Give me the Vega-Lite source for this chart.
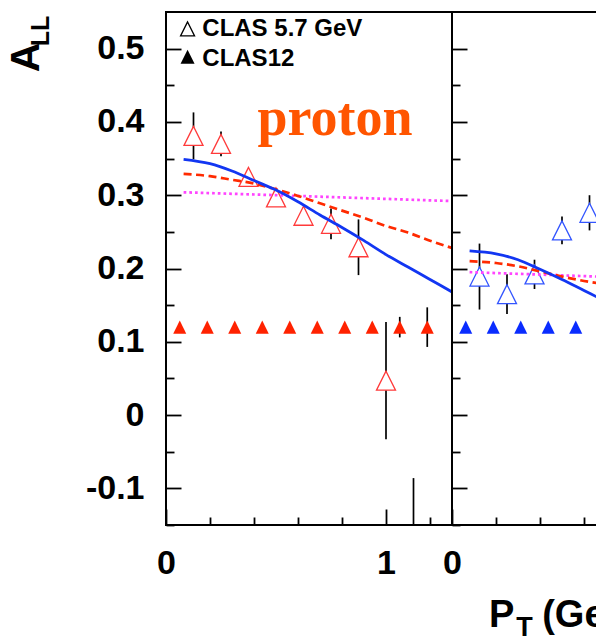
{
  "$schema": "https://vega.github.io/schema/vega-lite/v6.json",
  "background": "white",
  "padding": {"left": 5, "top": 11, "right": 0, "bottom": 0},
  "spacing": 0,
  "bounds": "flush",
  "datasets": {
    "points": [
      {"panel": "proton", "set": "CLAS 5.7 GeV", "pt": 0.125, "all": 0.381, "err": 0.032},
      {"panel": "proton", "set": "CLAS 5.7 GeV", "pt": 0.25, "all": 0.370, "err": 0.017},
      {"panel": "proton", "set": "CLAS 5.7 GeV", "pt": 0.375, "all": 0.325, "err": 0.010},
      {"panel": "proton", "set": "CLAS 5.7 GeV", "pt": 0.5, "all": 0.297, "err": 0.008},
      {"panel": "proton", "set": "CLAS 5.7 GeV", "pt": 0.625, "all": 0.272, "err": 0.011},
      {"panel": "proton", "set": "CLAS 5.7 GeV", "pt": 0.75, "all": 0.261, "err": 0.021},
      {"panel": "proton", "set": "CLAS 5.7 GeV", "pt": 0.875, "all": 0.229, "err": 0.038},
      {"panel": "proton", "set": "CLAS 5.7 GeV", "pt": 1.0, "all": 0.047, "err": 0.080},
      {"panel": "proton", "set": "CLAS 5.7 GeV", "pt": 1.125, "all": -0.18, "err": 0.094},
      {"panel": "proton", "set": "CLAS12", "pt": 0.0625, "all": 0.12, "err": 0.004},
      {"panel": "proton", "set": "CLAS12", "pt": 0.1875, "all": 0.12, "err": 0.004},
      {"panel": "proton", "set": "CLAS12", "pt": 0.3125, "all": 0.12, "err": 0.004},
      {"panel": "proton", "set": "CLAS12", "pt": 0.4375, "all": 0.12, "err": 0.004},
      {"panel": "proton", "set": "CLAS12", "pt": 0.5625, "all": 0.12, "err": 0.004},
      {"panel": "proton", "set": "CLAS12", "pt": 0.6875, "all": 0.12, "err": 0.004},
      {"panel": "proton", "set": "CLAS12", "pt": 0.8125, "all": 0.12, "err": 0.005},
      {"panel": "proton", "set": "CLAS12", "pt": 0.9375, "all": 0.12, "err": 0.006},
      {"panel": "proton", "set": "CLAS12", "pt": 1.0625, "all": 0.12, "err": 0.014},
      {"panel": "proton", "set": "CLAS12", "pt": 1.1875, "all": 0.12, "err": 0.027},
      {"panel": "second", "set": "CLAS 5.7 GeV", "pt": 0.125, "all": 0.189, "err": 0.045},
      {"panel": "second", "set": "CLAS 5.7 GeV", "pt": 0.25, "all": 0.165, "err": 0.027},
      {"panel": "second", "set": "CLAS 5.7 GeV", "pt": 0.375, "all": 0.192, "err": 0.020},
      {"panel": "second", "set": "CLAS 5.7 GeV", "pt": 0.5, "all": 0.252, "err": 0.019},
      {"panel": "second", "set": "CLAS 5.7 GeV", "pt": 0.625, "all": 0.276, "err": 0.024},
      {"panel": "second", "set": "CLAS12", "pt": 0.0625, "all": 0.12, "err": 0.004},
      {"panel": "second", "set": "CLAS12", "pt": 0.1875, "all": 0.12, "err": 0.004},
      {"panel": "second", "set": "CLAS12", "pt": 0.3125, "all": 0.12, "err": 0.004},
      {"panel": "second", "set": "CLAS12", "pt": 0.4375, "all": 0.12, "err": 0.004},
      {"panel": "second", "set": "CLAS12", "pt": 0.5625, "all": 0.12, "err": 0.004}
    ],
    "curves": [
      {"panel": "proton", "model": "solid", "pt": 0.08, "all": 0.349},
      {"panel": "proton", "model": "solid", "pt": 0.2, "all": 0.343},
      {"panel": "proton", "model": "solid", "pt": 0.3, "all": 0.333},
      {"panel": "proton", "model": "solid", "pt": 0.4, "all": 0.320},
      {"panel": "proton", "model": "solid", "pt": 0.5, "all": 0.307},
      {"panel": "proton", "model": "solid", "pt": 0.6, "all": 0.291},
      {"panel": "proton", "model": "solid", "pt": 0.7, "all": 0.273},
      {"panel": "proton", "model": "solid", "pt": 0.8, "all": 0.256},
      {"panel": "proton", "model": "solid", "pt": 0.9, "all": 0.238},
      {"panel": "proton", "model": "solid", "pt": 1.0, "all": 0.219},
      {"panel": "proton", "model": "solid", "pt": 1.1, "all": 0.202},
      {"panel": "proton", "model": "solid", "pt": 1.2, "all": 0.185},
      {"panel": "proton", "model": "solid", "pt": 1.3, "all": 0.168},
      {"panel": "proton", "model": "dashed", "pt": 0.08, "all": 0.329},
      {"panel": "proton", "model": "dashed", "pt": 0.2, "all": 0.326},
      {"panel": "proton", "model": "dashed", "pt": 0.3, "all": 0.321},
      {"panel": "proton", "model": "dashed", "pt": 0.4, "all": 0.316},
      {"panel": "proton", "model": "dashed", "pt": 0.5, "all": 0.308},
      {"panel": "proton", "model": "dashed", "pt": 0.6, "all": 0.299},
      {"panel": "proton", "model": "dashed", "pt": 0.7, "all": 0.289},
      {"panel": "proton", "model": "dashed", "pt": 0.8, "all": 0.279},
      {"panel": "proton", "model": "dashed", "pt": 0.9, "all": 0.269},
      {"panel": "proton", "model": "dashed", "pt": 1.0, "all": 0.258},
      {"panel": "proton", "model": "dashed", "pt": 1.1, "all": 0.249},
      {"panel": "proton", "model": "dashed", "pt": 1.2, "all": 0.238},
      {"panel": "proton", "model": "dashed", "pt": 1.3, "all": 0.228},
      {"panel": "proton", "model": "dotted", "pt": 0.08, "all": 0.304},
      {"panel": "proton", "model": "dotted", "pt": 0.4, "all": 0.301},
      {"panel": "proton", "model": "dotted", "pt": 0.7, "all": 0.298},
      {"panel": "proton", "model": "dotted", "pt": 1.0, "all": 0.295},
      {"panel": "proton", "model": "dotted", "pt": 1.3, "all": 0.292},
      {"panel": "second", "model": "solid", "pt": 0.08, "all": 0.224},
      {"panel": "second", "model": "solid", "pt": 0.2, "all": 0.220},
      {"panel": "second", "model": "solid", "pt": 0.3, "all": 0.212},
      {"panel": "second", "model": "solid", "pt": 0.4, "all": 0.199},
      {"panel": "second", "model": "solid", "pt": 0.5, "all": 0.185},
      {"panel": "second", "model": "solid", "pt": 0.6, "all": 0.170},
      {"panel": "second", "model": "solid", "pt": 0.66, "all": 0.161},
      {"panel": "second", "model": "dashed", "pt": 0.08, "all": 0.210},
      {"panel": "second", "model": "dashed", "pt": 0.2, "all": 0.2075},
      {"panel": "second", "model": "dashed", "pt": 0.3, "all": 0.203},
      {"panel": "second", "model": "dashed", "pt": 0.4, "all": 0.196},
      {"panel": "second", "model": "dashed", "pt": 0.5, "all": 0.189},
      {"panel": "second", "model": "dashed", "pt": 0.6, "all": 0.183},
      {"panel": "second", "model": "dashed", "pt": 0.66, "all": 0.180},
      {"panel": "second", "model": "dotted", "pt": 0.08, "all": 0.195},
      {"panel": "second", "model": "dotted", "pt": 0.66, "all": 0.189}
    ]
  },
  "hconcat": [
    {
      "width": 286,
      "height": 513,
      "resolve": {"axis": {"x": "independent", "y": "independent"}},
      "layer": [
        {
          "mark": {"type": "rule", "color": "black", "strokeWidth": 1.6},
          "encoding": {
            "y": {"datum": 0, "type": "quantitative", "axis": null, "scale": {"domain": [-0.15, 0.55], "nice": false, "zero": false}}
          }
        },
        {
          "data": {"name": "points"},
          "transform": [{"filter": "datum.panel == 'proton'"}],
          "mark": {"type": "errorbar", "color": "black", "thickness": 1.7, "clip": true},
          "encoding": {
            "x": {"field": "pt", "type": "quantitative", "axis": null, "scale": {"domain": [0, 1.3], "nice": false, "zero": false}},
            "y": {"field": "all", "type": "quantitative", "axis": null, "scale": {"domain": [-0.15, 0.55], "nice": false, "zero": false}},
            "yError": {"field": "err"}
          }
        },
        {
          "data": {"name": "points"},
          "transform": [{"filter": "datum.panel == 'proton' && datum.set == 'CLAS 5.7 GeV'"}],
          "mark": {"type": "point", "shape": "M0,-1L-1,1L1,1Z", "size": 361, "fill": "white", "stroke": "#ff3a3a", "strokeWidth": 1.3, "opacity": 1, "clip": true},
          "encoding": {
            "x": {"field": "pt", "type": "quantitative", "axis": null},
            "y": {"field": "all", "type": "quantitative", "axis": null}
          }
        },
        {
          "data": {"name": "points"},
          "transform": [{"filter": "datum.panel == 'proton' && datum.set == 'CLAS12'"}],
          "mark": {"type": "point", "shape": "M0,-1L-1,1L1,1Z", "size": 170, "filled": true, "fill": "#ff2200", "strokeWidth": 0, "opacity": 1, "clip": true},
          "encoding": {
            "x": {"field": "pt", "type": "quantitative", "axis": null},
            "y": {"field": "all", "type": "quantitative", "axis": null}
          }
        },
        {
          "data": {"name": "curves"},
          "transform": [{"filter": "datum.panel == 'proton' && datum.model == 'dotted'"}],
          "mark": {"type": "line", "color": "#ff44ff", "strokeWidth": 2.7, "strokeDash": [2.7, 3], "interpolate": "monotone", "clip": true},
          "encoding": {
            "x": {"field": "pt", "type": "quantitative", "axis": null},
            "y": {"field": "all", "type": "quantitative", "axis": null}
          }
        },
        {
          "data": {"name": "curves"},
          "transform": [{"filter": "datum.panel == 'proton' && datum.model == 'dashed'"}],
          "mark": {"type": "line", "color": "#ff2a00", "strokeWidth": 2.7, "strokeDash": [8, 4.5], "interpolate": "monotone", "clip": true},
          "encoding": {
            "x": {"field": "pt", "type": "quantitative", "axis": {"orient": "bottom", "values": [0.2, 0.4, 0.6, 0.8, 1.2], "tickSize": -8, "labels": false, "title": null}},
            "y": {"field": "all", "type": "quantitative", "axis": {"orient": "left", "values": [-0.15, -0.05, 0.05, 0.15, 0.25, 0.35, 0.45], "tickSize": -8, "labels": false, "title": null}}
          }
        },
        {
          "data": {"name": "curves"},
          "transform": [{"filter": "datum.panel == 'proton' && datum.model == 'solid'"}],
          "mark": {"type": "line", "color": "#1236f2", "strokeWidth": 2.8, "interpolate": "monotone", "clip": true},
          "encoding": {
            "x": {"field": "pt", "type": "quantitative", "axis": {"orient": "bottom", "values": [0, 1], "tickSize": -16, "labelFlush": false, "labelOverlap": false, "labelPadding": 37, "labelExpr": "format(datum.value, 'd')", "title": null}},
            "y": {"field": "all", "type": "quantitative", "axis": {"orient": "left", "values": [-0.1, 0, 0.1, 0.2, 0.3, 0.4, 0.5], "tickSize": -15, "labelPadding": 37, "labelOverlap": false, "labelExpr": "datum.value < 0 ? '-' + format(-datum.value, '.1f') : (datum.value == 0 ? '0' : format(datum.value, '.1f'))", "title": null}}
          }
        },
        {
          "data": {"values": [{}]},
          "mark": {"type": "point", "shape": "M0,-1L-1,1L1,1Z", "size": 196, "fill": "white", "stroke": "black", "strokeWidth": 1.3, "opacity": 1},
          "encoding": {"x": {"datum": 0.098, "type": "quantitative", "axis": null}, "y": {"datum": 0.527, "type": "quantitative", "axis": null}}
        },
        {
          "data": {"values": [{}]},
          "mark": {"type": "point", "shape": "M0,-1L-1,1L1,1Z", "size": 196, "filled": true, "fill": "black", "strokeWidth": 0, "opacity": 1},
          "encoding": {"x": {"datum": 0.098, "type": "quantitative", "axis": null}, "y": {"datum": 0.4888, "type": "quantitative", "axis": null}}
        },
        {
          "data": {"values": [{}]},
          "mark": {"type": "text", "text": "CLAS 5.7 GeV", "font": "Liberation Sans", "fontWeight": "bold", "fontSize": 24, "color": "black", "align": "left", "baseline": "alphabetic"},
          "encoding": {"x": {"datum": 0.165, "type": "quantitative", "axis": null}, "y": {"datum": 0.517, "type": "quantitative", "axis": null}}
        },
        {
          "data": {"values": [{}]},
          "mark": {"type": "text", "text": "CLAS12", "font": "Liberation Sans", "fontWeight": "bold", "fontSize": 24, "color": "black", "align": "left", "baseline": "alphabetic"},
          "encoding": {"x": {"datum": 0.165, "type": "quantitative", "axis": null}, "y": {"datum": 0.476, "type": "quantitative", "axis": null}}
        },
        {
          "data": {"values": [{}]},
          "mark": {"type": "text", "text": "proton", "font": "Liberation Serif", "fontWeight": "bold", "fontSize": 54, "color": "#ff5500", "align": "left", "baseline": "alphabetic"},
          "encoding": {"x": {"datum": 0.416, "type": "quantitative", "axis": null}, "y": {"datum": 0.382, "type": "quantitative", "axis": null}}
        },
        {
          "data": {"values": [{}]},
          "mark": {"type": "text", "text": "A", "font": "Liberation Sans", "fontWeight": "bold", "fontSize": 41, "color": "black", "align": "center", "baseline": "alphabetic", "angle": 270},
          "encoding": {"x": {"datum": -0.576, "type": "quantitative", "axis": null}, "y": {"datum": 0.488, "type": "quantitative", "axis": null}}
        },
        {
          "data": {"values": [{}]},
          "mark": {"type": "text", "text": "LL", "font": "Liberation Sans", "fontWeight": "bold", "fontSize": 25, "color": "black", "align": "center", "baseline": "alphabetic", "angle": 270},
          "encoding": {"x": {"datum": -0.53, "type": "quantitative", "axis": null}, "y": {"datum": 0.524, "type": "quantitative", "axis": null}}
        }
      ]
    },
    {
      "width": 286,
      "height": 513,
      "resolve": {"axis": {"x": "independent", "y": "independent"}},
      "layer": [
        {
          "data": {"name": "points"},
          "transform": [{"filter": "datum.panel == 'second'"}],
          "mark": {"type": "errorbar", "color": "black", "thickness": 1.7, "clip": true},
          "encoding": {
            "x": {"field": "pt", "type": "quantitative", "axis": null, "scale": {"domain": [0, 1.3], "nice": false, "zero": false}},
            "y": {"field": "all", "type": "quantitative", "axis": null, "scale": {"domain": [-0.15, 0.55], "nice": false, "zero": false}},
            "yError": {"field": "err"}
          }
        },
        {
          "data": {"name": "points"},
          "transform": [{"filter": "datum.panel == 'second' && datum.set == 'CLAS 5.7 GeV'"}],
          "mark": {"type": "point", "shape": "M0,-1L-1,1L1,1Z", "size": 361, "fill": "white", "stroke": "#3355ff", "strokeWidth": 1.3, "opacity": 1, "clip": true},
          "encoding": {
            "x": {"field": "pt", "type": "quantitative", "axis": null},
            "y": {"field": "all", "type": "quantitative", "axis": null}
          }
        },
        {
          "data": {"name": "points"},
          "transform": [{"filter": "datum.panel == 'second' && datum.set == 'CLAS12'"}],
          "mark": {"type": "point", "shape": "M0,-1L-1,1L1,1Z", "size": 170, "filled": true, "fill": "#0a2cff", "strokeWidth": 0, "opacity": 1, "clip": true},
          "encoding": {
            "x": {"field": "pt", "type": "quantitative", "axis": null},
            "y": {"field": "all", "type": "quantitative", "axis": null}
          }
        },
        {
          "data": {"name": "curves"},
          "transform": [{"filter": "datum.panel == 'second' && datum.model == 'dotted'"}],
          "mark": {"type": "line", "color": "#ff44ff", "strokeWidth": 2.7, "strokeDash": [2.7, 3], "interpolate": "monotone", "clip": true},
          "encoding": {
            "x": {"field": "pt", "type": "quantitative", "axis": null},
            "y": {"field": "all", "type": "quantitative", "axis": null}
          }
        },
        {
          "data": {"name": "curves"},
          "transform": [{"filter": "datum.panel == 'second' && datum.model == 'dashed'"}],
          "mark": {"type": "line", "color": "#ff2a00", "strokeWidth": 2.7, "strokeDash": [8, 4.5], "interpolate": "monotone", "clip": true},
          "encoding": {
            "x": {"field": "pt", "type": "quantitative", "axis": {"orient": "bottom", "values": [0.2, 0.4, 0.6, 0.8, 1.2], "tickSize": -8, "labels": false, "title": null}},
            "y": {"field": "all", "type": "quantitative", "axis": {"orient": "left", "values": [-0.15, -0.05, 0.05, 0.15, 0.25, 0.35, 0.45], "tickSize": -8, "labels": false, "title": null}}
          }
        },
        {
          "data": {"name": "curves"},
          "transform": [{"filter": "datum.panel == 'second' && datum.model == 'solid'"}],
          "mark": {"type": "line", "color": "#1236f2", "strokeWidth": 2.8, "interpolate": "monotone", "clip": true},
          "encoding": {
            "x": {"field": "pt", "type": "quantitative", "axis": {"orient": "bottom", "values": [0, 1], "tickSize": -16, "labelFlush": false, "labelOverlap": false, "labelPadding": 37, "labelExpr": "format(datum.value, 'd')", "title": null}},
            "y": {"field": "all", "type": "quantitative", "axis": {"orient": "left", "values": [-0.1, 0, 0.1, 0.2, 0.3, 0.4, 0.5], "tickSize": -15, "labels": false, "title": null}}
          }
        },
        {
          "data": {"values": [{}]},
          "mark": {"type": "text", "text": "P", "font": "Liberation Sans", "fontWeight": "bold", "fontSize": 38, "color": "black", "align": "left", "baseline": "alphabetic"},
          "encoding": {"x": {"datum": 0.168, "type": "quantitative", "axis": null}, "y": {"datum": -0.289, "type": "quantitative", "axis": null}}
        },
        {
          "data": {"values": [{}]},
          "mark": {"type": "text", "text": "T", "font": "Liberation Sans", "fontWeight": "bold", "fontSize": 27, "color": "black", "align": "left", "baseline": "alphabetic"},
          "encoding": {"x": {"datum": 0.292, "type": "quantitative", "axis": null}, "y": {"datum": -0.302, "type": "quantitative", "axis": null}}
        },
        {
          "data": {"values": [{}]},
          "mark": {"type": "text", "text": "(GeV)", "font": "Liberation Sans", "fontWeight": "bold", "fontSize": 38, "color": "black", "align": "left", "baseline": "alphabetic"},
          "encoding": {"x": {"datum": 0.41, "type": "quantitative", "axis": null}, "y": {"datum": -0.289, "type": "quantitative", "axis": null}}
        }
      ]
    }
  ],
  "config": {
    "view": {"stroke": "black", "strokeWidth": 2},
    "axis": {
      "domain": false,
      "grid": false,
      "tickColor": "black",
      "tickWidth": 1.8,
      "labelFont": "Liberation Sans",
      "labelFontWeight": "bold",
      "labelFontSize": 34,
      "labelColor": "black"
    }
  }
}
